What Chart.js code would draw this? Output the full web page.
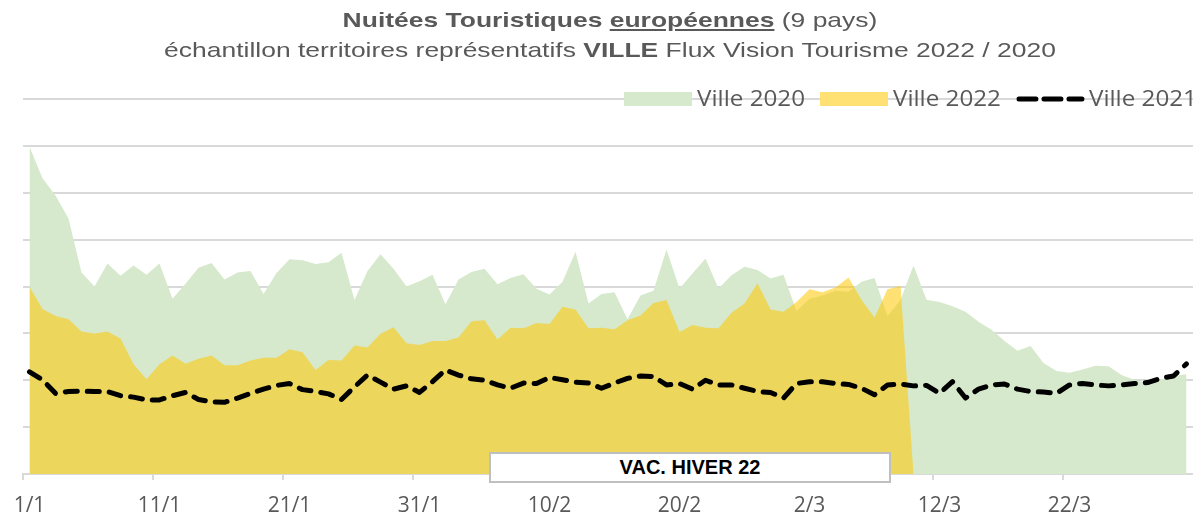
<!DOCTYPE html>
<html lang="fr">
<head>
<meta charset="utf-8">
<title>Nuitées Touristiques européennes</title>
<script src="https://cdn.jsdelivr.net/npm/chart.js@4.4.1/dist/chart.umd.min.js"></script>
<style>
  html, body { margin: 0; padding: 0; background: #fff; }
  #wrap { position: relative; width: 1193px; height: 517px; overflow: hidden; }
  #myChart { position: absolute; left: 0; top: 0; }
  #title {
    position: absolute; left: 610px; top: 5px;
    transform: translateX(-50%) scaleX(1.26);
    font-family: "Liberation Sans", Arial, sans-serif; font-size: 21px; line-height: 30px;
    color: #595959; text-align: center; white-space: nowrap;
  }
  #vac {
    position: absolute; left: 489px; top: 452px; width: 402px; height: 31px;
    box-sizing: border-box; border: 2px solid #bfbfbf; background: #fff;
    font-family: "Liberation Sans", Arial, sans-serif; font-weight: bold; font-size: 20px;
    line-height: 27px; text-align: center; color: #000;
  }
</style>
</head>
<body>
<div id="wrap">
  <canvas id="myChart" width="1193" height="517"></canvas>
  <div id="title">
    <div><b>Nuitées Touristiques <u>européennes</u></b> (9 pays)</div>
    <div>échantillon territoires représentatifs <b>VILLE</b> Flux Vision Tourisme 2022 / 2020</div>
  </div>
  <div id="vac">VAC. HIVER 22</div>
</div>
<script>
const ctx = document.getElementById('myChart');

const days = [
  '1/1','2/1','3/1','4/1','5/1','6/1','7/1','8/1','9/1','10/1','11/1','12/1','13/1','14/1','15/1','16/1',
  '17/1','18/1','19/1','20/1','21/1','22/1','23/1','24/1','25/1','26/1','27/1','28/1','29/1','30/1','31/1',
  '1/2','2/2','3/2','4/2','5/2','6/2','7/2','8/2','9/2','10/2','11/2','12/2','13/2','14/2','15/2','16/2',
  '17/2','18/2','19/2','20/2','21/2','22/2','23/2','24/2','25/2','26/2','27/2','28/2',
  '1/3','2/3','3/3','4/3','5/3','6/3','7/3','8/3','9/3','10/3','11/3','12/3','13/3','14/3','15/3','16/3',
  '17/3','18/3','19/3','20/3','21/3','22/3','23/3','24/3','25/3','26/3','27/3','28/3','29/3','30/3','31/3'
];
const tickLabels = ['1/1', '11/1', '21/1', '31/1', '10/2', '20/2', '2/3', '12/3', '22/3'];

const ville2020 = [
  6980, 6310, 5940, 5450, 4300, 4000, 4490, 4230, 4450, 4250,
  4490, 3740, 4060, 4400, 4500, 4150, 4300, 4330, 3840, 4290,
  4580, 4560, 4480, 4520, 4720, 3710, 4330, 4690, 4380, 4000,
  4110, 4250, 3620, 4150, 4310, 4380, 4050, 4180, 4260, 3950,
  3830, 4100, 4740, 3640, 3840, 3880, 3300, 3810, 3910, 4790,
  3960, 4280, 4600, 3960, 4240, 4420, 4350, 4170, 4250, 3480,
  3740, 3810, 3910, 3890, 4100, 4180, 3370, 3710, 4450, 3720,
  3670, 3580, 3460, 3250, 3080, 2840, 2630, 2730, 2370, 2200,
  2160, 2230, 2310, 2300, 2110, 2010, 1940, 2010, 2090, 2130
];
const ville2022 = [
  3990, 3520, 3370, 3300, 3040, 3000, 3040, 2890, 2340, 2020,
  2340, 2530, 2350, 2460, 2530, 2320, 2320, 2420, 2480, 2480,
  2660, 2600, 2220, 2430, 2420, 2740, 2700, 2990, 3130, 2790,
  2750, 2840, 2840, 2910, 3260, 3280, 2870, 3120, 3110, 3220,
  3200, 3570, 3510, 3110, 3120, 3090, 3280, 3380, 3650, 3710,
  3030, 3180, 3120, 3110, 3440, 3640, 4070, 3510, 3460, 3670,
  3940, 3880, 3980, 4190, 3710, 3340, 3940, 4010, 0, null,
  null, null, null, null, null, null, null, null, null, null,
  null, null, null, null, null, null, null, null, null, null
];
const ville2021 = [
  2180, 2010, 1720, 1760, 1770, 1760, 1760, 1670, 1640, 1580,
  1580, 1670, 1740, 1590, 1540, 1530, 1620, 1720, 1810, 1890,
  1930, 1800, 1760, 1710, 1590, 1860, 2110, 1960, 1810, 1880,
  1740, 1970, 2220, 2110, 2030, 2000, 1900, 1830, 1940, 1930,
  2060, 2010, 1960, 1940, 1830, 1940, 2040, 2090, 2080, 1900,
  1930, 1810, 2000, 1900, 1900, 1830, 1760, 1740, 1620, 1930,
  1970, 1970, 1930, 1910, 1830, 1690, 1900, 1920, 1880, 1890,
  1720, 1970, 1620, 1810, 1900, 1920, 1810, 1760, 1750, 1720,
  1900, 1930, 1900, 1880, 1900, 1930, 1950, 2040, 2090, 2350
];

const green = 'rgb(214, 233, 204)';
const yellow = 'rgba(255, 200, 0, 0.55)';
const grey = '#595959';
const gridGrey = '#d9d9d9';

// legend sits on the top gridline like in the excel chart
const legendOnTop = {
  id: 'legendOnTop',
  afterDraw(chart) {
    const c = chart.ctx;
    const y = chart.chartArea.top;
    const stretch = 1.1;
    let x = 624;
    c.save();
    c.font = '22px "Open Sans"';
    c.textBaseline = 'middle';
    chart.data.datasets.slice().sort((a, b) => b.order - a.order).forEach(ds => {
      if (ds.fill) {
        c.fillStyle = '#fff';
        c.fillRect(x, y - 7, 68, 14);
        c.fillStyle = ds.backgroundColor;
        c.fillRect(x, y - 7, 68, 14);
      } else {
        c.fillStyle = '#fff';
        c.fillRect(x, y - 4, 68, 8);
        c.strokeStyle = ds.borderColor;
        c.lineWidth = ds.borderWidth;
        c.lineCap = 'round';
        c.setLineDash([17, 8]);
        c.beginPath();
        c.moveTo(x + 3, y);
        c.lineTo(x + 66, y);
        c.stroke();
        c.setLineDash([]);
      }
      x += 73;
      c.save();
      c.translate(x, y + 1);
      c.scale(stretch, 1);
      c.fillStyle = grey;
      c.fillText(ds.label, 0, 0);
      c.restore();
      x += c.measureText(ds.label).width * stretch + 15;
    });
    c.restore();
  }
};

new Chart(ctx, {
  type: 'line',
  data: {
    labels: days,
    datasets: [{
      label: 'Ville 2021',
      data: ville2021,
      order: 0,
      fill: false,
      borderColor: '#000',
      borderWidth: 5,
      borderDash: [12, 10],
      borderCapStyle: 'round',
      borderJoinStyle: 'round',
      pointRadius: 0,
      tension: 0
    }, {
      label: 'Ville 2022',
      data: ville2022,
      order: 1,
      fill: 'origin',
      backgroundColor: yellow,
      borderWidth: 0,
      pointRadius: 0,
      tension: 0
    }, {
      label: 'Ville 2020',
      data: ville2020,
      order: 2,
      fill: 'origin',
      backgroundColor: green,
      borderWidth: 0,
      pointRadius: 0,
      tension: 0
    }]
  },
  options: {
    responsive: false,
    animation: false,
    layout: {
      padding: { left: 23, right: 0, top: 99, bottom: 0 }
    },
    plugins: {
      legend: { display: false },
      title: { display: false },
      tooltip: { enabled: false }
    },
    scales: {
      x: {
        type: 'category',
        offset: true,
        afterFit: s => {
          s.height = 43;
          s.paddingLeft = 0;
          s.paddingRight = 0;
        },
        grid: {
          offset: true,
          drawOnChartArea: false,
          tickLength: 6,
          lineWidth: 2,
          color: c => tickLabels.includes(days[c.index]) ? gridGrey : 'rgba(0,0,0,0)'
        },
        border: { color: gridGrey, width: 2 },
        ticks: {
          autoSkip: false,
          maxRotation: 0,
          padding: 13,
          color: grey,
          font: { family: 'Open Sans', size: 21 },
          callback: function (val) {
            const lab = this.getLabelForValue(val);
            return tickLabels.includes(lab) ? lab : '';
          }
        }
      },
      y: {
        min: 0,
        max: 8000,
        afterFit: s => { s.width = 0; },
        ticks: { display: false, stepSize: 1000 },
        border: { display: false },
        grid: { drawTicks: false, color: gridGrey, lineWidth: 2 }
      }
    }
  },
  plugins: [legendOnTop]
});
</script>
</body>
</html>
